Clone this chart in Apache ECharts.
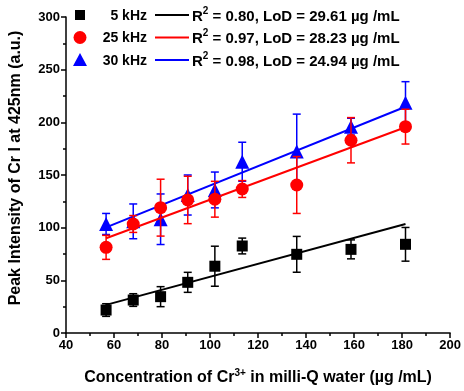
<!DOCTYPE html>
<html><head><meta charset="utf-8">
<script src="https://cdn.jsdelivr.net/npm/echarts@6/dist/echarts.min.js"></script>
<style>html,body{margin:0;padding:0;background:#fff}#c{width:464px;height:391px}</style>
</head><body><div id="c"></div>
<script>
var conc = [56.7, 68.0, 79.4, 90.7, 102.0, 113.4, 136.1, 158.7, 181.4];
var int5 = [21.8, 31.3, 34.5, 48.1, 63.4, 82.6, 74.7, 79.4, 84.2];
var err5 = [6, 6, 9.5, 9.5, 19, 7.5, 17, 9, 16];
var int25 = [81.3, 103.5, 119, 126.3, 127, 136.7, 140.5, 183, 195.9];
var err25 = [11.4, 8, 27, 22.5, 17, 8, 27, 21.5, 16.5];
var int30 = [103.5, 106, 108, 131, 135.8, 162.6, 172.2, 195.9, 218.6];
var err30 = [10, 16.5, 24, 19, 17, 18.5, 35.6, 8, 20];
var fitX = [56.7, 181.4];
var fit5 = [26.7, 103.5];
var fit25 = [90.0, 195.3];
var fit30 = [100.3, 214.8];
var legendRows = [
  {name: '5 kHz', r2: '0.80', lod: '29.61'},
  {name: '25 kHz', r2: '0.97', lod: '28.23'},
  {name: '30 kHz', r2: '0.98', lod: '24.94'}
];
var colors = ['#000000', '#ff0000', '#0000ff'];
var symbols = ['rect', 'circle', 'triangle'];
var symSizes = [11, 13, 14];

function pairs(xs, ys) { return xs.map(function (x, i) { return [x, ys[i]]; }); }
function errData(xs, ys, es) { return xs.map(function (x, i) { return [x, ys[i], es[i]]; }); }
function errSeries(data, color) {
  return {
    type: 'custom', data: data,
    renderItem: function (params, api) {
      var x = api.value(0), y = api.value(1), e = api.value(2);
      var hi = api.coord([x, y + e]), lo = api.coord([x, y - e]);
      var w = 4;
      var st = {stroke: color, lineWidth: 1.5};
      return {type: 'group', children: [
        {type: 'line', shape: {x1: hi[0], y1: hi[1], x2: lo[0], y2: lo[1]}, style: st},
        {type: 'line', shape: {x1: hi[0] - w, y1: hi[1], x2: hi[0] + w, y2: hi[1]}, style: st},
        {type: 'line', shape: {x1: lo[0] - w, y1: lo[1], x2: lo[0] + w, y2: lo[1]}, style: st}
      ]};
    }
  };
}
function scatter(data, i) {
  return {type: 'scatter', data: data, symbol: symbols[i], symbolSize: symSizes[i],
    itemStyle: {color: colors[i], opacity: 1}};
}
function fitLine(ys, i) {
  return {type: 'line', data: pairs(fitX, ys), symbol: 'none',
    lineStyle: {color: colors[i], width: 2}};
}

var series = [
  fitLine(fit30, 2), errSeries(errData(conc, int30, err30), colors[2]), scatter(pairs(conc, int30), 2),
  fitLine(fit25, 1), errSeries(errData(conc, int25, err25), colors[1]), scatter(pairs(conc, int25), 1),
  fitLine(fit5, 0), errSeries(errData(conc, int5, err5), colors[0]), scatter(pairs(conc, int5), 0)
];
series.forEach(function (s, k) { s.z = 2 + k; });

var font = 'Arial, "Liberation Sans", sans-serif';
var graphics = [];
legendRows.forEach(function (r, i) {
  var cy = 15 + i * 22.5;
  var sym;
  if (i === 0) sym = {type: 'rect', shape: {x: 75, y: cy - 5, width: 10, height: 10}, style: {fill: colors[0]}};
  else if (i === 1) sym = {type: 'circle', shape: {cx: 80, cy: cy, r: 6.5}, style: {fill: colors[1]}};
  else sym = {type: 'polygon', shape: {points: [[80, cy - 7], [87, cy + 6], [73, cy + 6]]}, style: {fill: colors[2]}};
  graphics.push(sym);
  graphics.push({type: 'text', x: 147, y: cy + 1, style: {text: r.name, font: 'bold 14px ' + font, fill: '#000', textAlign: 'right', textVerticalAlign: 'middle'}});
  graphics.push({type: 'line', shape: {x1: 155, y1: cy, x2: 189, y2: cy}, style: {stroke: colors[i], lineWidth: 2}});
  graphics.push({type: 'text', x: 192, y: cy, style: {
    text: '{b|R}{s|2}{b| = ' + r.r2 + ', LoD = ' + r.lod + ' µg /mL}',
    textVerticalAlign: 'middle', fill: '#000',
    rich: {b: {fontSize: 15, fontWeight: 'bold', fontFamily: font, lineHeight: 18, verticalAlign: 'bottom'},
           s: {fontSize: 10, fontWeight: 'bold', fontFamily: font, lineHeight: 18, verticalAlign: 'top'}}
  }});
});

var chart = echarts.init(document.getElementById('c'), null, {renderer: 'canvas'});
chart.setOption({
  animation: false,
  grid: {left: 61, right: 12, top: 17, bottom: 58},
  xAxis: {
    type: 'value', min: 40, max: 200, interval: 20,
    name: 'Concentration of Cr{s|3+} in milli-Q water (µg /mL)',
    nameLocation: 'middle', nameGap: 35,
    nameTextStyle: {color: '#000', fontSize: 16, fontWeight: 'bold', fontFamily: font,
      rich: {s: {fontSize: 10, fontWeight: 'bold', fontFamily: font, verticalAlign: 'top', lineHeight: 20}}},
    axisLine: {lineStyle: {color: '#000', width: 1.5}},
    axisTick: {inside: false, length: 5, lineStyle: {color: '#000', width: 1.5}},
    minorTick: {show: true, splitNumber: 2, length: 3, lineStyle: {color: '#000', width: 1.5}},
    axisLabel: {color: '#000', fontSize: 13, fontWeight: 'bold', fontFamily: font, margin: 6},
    splitLine: {show: false}
  },
  yAxis: {
    type: 'value', min: 0, max: 300, interval: 50,
    name: 'Peak Intensity of Cr I at 425nm (a.u.)',
    nameLocation: 'middle', nameGap: 42,
    nameTextStyle: {color: '#000', fontSize: 16, fontWeight: 'bold', fontFamily: font, padding: [0, 0, 0, 14]},
    axisLine: {show: true, lineStyle: {color: '#000', width: 1.5}},
    axisTick: {show: true, length: 5, lineStyle: {color: '#000', width: 1.5}},
    minorTick: {show: true, splitNumber: 2, length: 3, lineStyle: {color: '#000', width: 1.5}},
    axisLabel: {color: '#000', fontSize: 13, fontWeight: 'bold', fontFamily: font, margin: 6},
    splitLine: {show: false}
  },
  graphic: graphics,
  series: series
});
</script></body></html>
